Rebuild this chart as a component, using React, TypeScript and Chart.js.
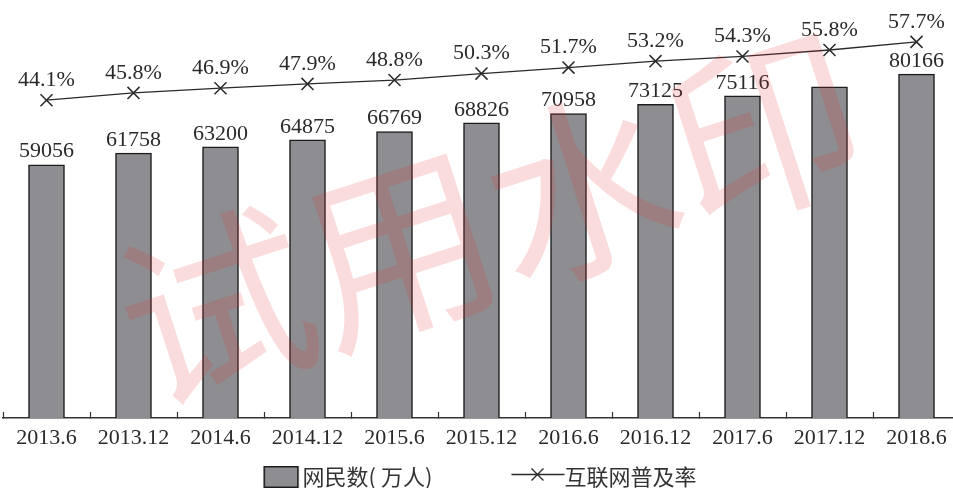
import { useEffect, useRef } from "react";
import { Chart, registerables } from "chart.js";

Chart.register(...registerables);

// ---- data ----
const categories = [
  "2013.6", "2013.12", "2014.6", "2014.12", "2015.6", "2015.12",
  "2016.6", "2016.12", "2017.6", "2017.12", "2018.6",
];
const netizens = [59056, 61758, 63200, 64875, 66769, 68826, 70958, 73125, 75116, 77198, 80166];
const penetration = [44.1, 45.8, 46.9, 47.9, 48.8, 50.3, 51.7, 53.2, 54.3, 55.8, 57.7];
const barLabelHidden = ["2017.12"];
const seriesNames = ["网民数( 万人)", "互联网普及率"];
const watermarkText = "试用水印";

// ---- style ----
const SERIF = "'Liberation Serif', 'Times New Roman', serif";
const CJK = "'Noto Sans CJK SC', 'Noto Sans', sans-serif";
const BAR_FILL = "#8e8e92";
const BAR_EDGE = "#1c1c1c";
const INK = "#2a2a2a";
const LEG_W = 119; // legend box width (pointStyleWidth)
const LEG_PAD = 2;
const LEG_SHIFT = -47;

function makeIcon(kind: "bar" | "line"): HTMLCanvasElement {
  const IW = 2 * LEG_W + 20;
  const IH = 24;
  const c = document.createElement("canvas");
  c.width = IW;
  c.height = IH;
  const ctx = c.getContext("2d")!;
  const toImg = (rel: number) => rel - LEG_W / 2 + IW / 2;
  if (kind === "bar") {
    const x0 = toImg(LEG_W - 28);
    ctx.fillStyle = BAR_FILL;
    ctx.fillRect(x0, 1, 35, 22);
    ctx.strokeStyle = BAR_EDGE;
    ctx.lineWidth = 1.5;
    ctx.strokeRect(x0 + 0.75, 1.75, 33.5, 20.5);
  } else {
    const xs = toImg(LEG_W - 42);
    const xe = toImg(LEG_W + 11);
    const xc = toImg(LEG_W - 16);
    const yc = 9.5;
    ctx.strokeStyle = INK;
    ctx.lineWidth = 1.4;
    ctx.beginPath();
    ctx.moveTo(xs, yc);
    ctx.lineTo(xe, yc);
    ctx.moveTo(xc - 6, yc - 6);
    ctx.lineTo(xc + 6, yc + 6);
    ctx.moveTo(xc - 6, yc + 6);
    ctx.lineTo(xc + 6, yc - 6);
    ctx.stroke();
  }
  return c;
}

const valueLabels = {
  id: "valueLabels",
  afterDatasetsDraw(chart: any) {
    const ctx = chart.ctx;
    ctx.save();
    ctx.fillStyle = INK;
    ctx.font = `22px ${SERIF}`;
    ctx.textAlign = "center";
    ctx.textBaseline = "middle";
    chart.getDatasetMeta(0).data.forEach((el: any, i: number) => {
      if (barLabelHidden.includes(categories[i])) return;
      ctx.fillText(String(netizens[i]), el.x, el.y - 13);
    });
    chart.getDatasetMeta(1).data.forEach((el: any, i: number) => {
      ctx.fillText(penetration[i].toFixed(1) + "%", el.x, el.y - 20);
    });
    ctx.restore();
  },
};

const legendShift = {
  id: "legendShift",
  afterLayout(chart: any) {
    if (chart.legend) {
      chart.legend.left += LEG_SHIFT;
      chart.legend.right += LEG_SHIFT;
    }
  },
};

const watermark = {
  id: "watermark",
  afterDraw(chart: any) {
    const ctx = chart.ctx;
    ctx.save();
    ctx.translate(490, 218);
    ctx.rotate((-18 * Math.PI) / 180);
    ctx.font = `192px ${CJK}`;
    ctx.fillStyle = "rgba(225, 50, 50, 0.17)";
    ctx.textAlign = "center";
    ctx.textBaseline = "middle";
    ctx.fillText(watermarkText, 0, 0);
    ctx.restore();
  },
};

export default function App() {
  const ref = useRef<HTMLCanvasElement | null>(null);

  useEffect(() => {
    if (!ref.current) return;
    const barIcon = makeIcon("bar");
    const lineIcon = makeIcon("line");
    const chart = new Chart(ref.current, {
      data: {
        labels: categories,
        datasets: [
          {
            type: "bar",
            label: seriesNames[0],
            data: netizens,
            backgroundColor: BAR_FILL,
            borderColor: BAR_EDGE,
            borderWidth: 1.5,
            barThickness: 36,
            yAxisID: "y",
            order: 2,
          },
          {
            type: "line",
            label: seriesNames[1],
            data: penetration,
            yAxisID: "y1",
            borderColor: INK,
            borderWidth: 1.3,
            pointStyle: "crossRot",
            pointRadius: 8.5,
            pointBorderWidth: 1.5,
            pointBorderColor: INK,
            pointBackgroundColor: "transparent",
            tension: 0,
            clip: false,
            order: 1,
          },
        ],
      } as any,
      options: {
        animation: false,
        responsive: false,
        events: [],
        layout: { autoPadding: false, padding: { left: 3, right: 0, top: 32, bottom: -10 } },
        scales: {
          x: {
            type: "category",
            offset: true,
            afterFit: (scale: any) => {
              scale.paddingLeft = 0;
              scale.paddingRight = 0;
            },
            grid: {
              display: true,
              offset: true,
              drawOnChartArea: false,
              drawTicks: true,
              tickLength: -6,
              tickWidth: 1.2,
              tickColor: "#333",
            },
            border: { display: true, color: "#333", width: 1.5 },
            ticks: {
              color: INK,
              font: { family: SERIF, size: 22 },
              padding: 12.8,
              maxRotation: 0,
              autoSkip: false,
            },
          },
          y: { display: false, min: 0, max: 90000 },
          y1: { display: false, min: -30, max: 60 },
        },
        plugins: {
          tooltip: { enabled: false },
          legend: {
            display: true,
            position: "bottom",
            labels: {
              usePointStyle: true,
              pointStyleWidth: LEG_W,
              padding: LEG_PAD,
              color: "#333",
              font: { family: CJK, size: 22 },
              generateLabels: () => [
                {
                  text: seriesNames[0],
                  pointStyle: barIcon,
                  fillStyle: "transparent",
                  strokeStyle: "transparent",
                  lineWidth: 0,
                  hidden: false,
                  datasetIndex: 0,
                  fontColor: "#333",
                },
                {
                  text: seriesNames[1],
                  pointStyle: lineIcon,
                  fillStyle: "transparent",
                  strokeStyle: "transparent",
                  lineWidth: 0,
                  hidden: false,
                  datasetIndex: 1,
                  fontColor: "#333",
                },
              ],
            },
          },
        },
      } as any,
      plugins: [valueLabels, legendShift, watermark],
    });
    return () => chart.destroy();
  }, []);

  return (
    <div
      style={{
        position: "fixed",
        left: 0,
        top: 0,
        width: 953,
        height: 488,
        overflow: "hidden",
        background: "#fff",
      }}
    >
      <canvas ref={ref} width={960} height={488} style={{ display: "block" }} />
    </div>
  );
}
